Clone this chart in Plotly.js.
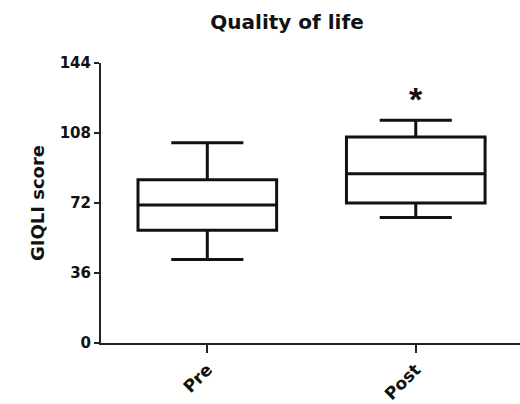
<!DOCTYPE html>
<html>
<head>
<meta charset="utf-8">
<script src="https://cdn.plot.ly/plotly-3.0.1.min.js"></script>
<style>html,body{margin:0;padding:0;background:#fff;}#chart{width:520px;height:404px;}</style>
</head>
<body>
<div id="chart"></div>
<script>
// Data (GIQLI score, box summary)
const categories = ['Pre', 'Post'];
const lowerWhisker = [43, 64.5];
const q1Values = [58, 72];
const medianValues = [71, 87];
const q3Values = [84, 106];
const upperWhisker = [103, 114.5];
const significance = ['', '*'];
const yTicks = [0, 36, 72, 108, 144];

const trace = {
  type: 'box',
  x: categories,
  lowerfence: lowerWhisker,
  q1: q1Values,
  median: medianValues,
  q3: q3Values,
  upperfence: upperWhisker,
  boxpoints: false,
  fillcolor: '#ffffff',
  line: {color: '#111111', width: 3},
  whiskerwidth: 0.52,
  hoverinfo: 'none',
  showlegend: false
};

const annotations = [];
categories.forEach((c, i) => {
  if (significance[i]) {
    annotations.push({
      x: c, xref: 'x', y: upperWhisker[i], yref: 'y',
      text: significance[i], showarrow: false,
      yanchor: 'bottom', yshift: 0,
      font: {family: 'Liberation Sans, Arial, sans-serif', size: 34, color: '#111', weight: 'bold'}
    });
  }
});

const layout = {
  width: 520, height: 404,
  margin: {l: 101, r: 0, t: 63, b: 61},
  paper_bgcolor: '#fff', plot_bgcolor: '#fff',
  boxgap: 0.335,
  boxgroupgap: 0,
  title: {
    text: 'Quality of life',
    font: {family: 'DejaVu Sans, sans-serif', size: 20, color: '#111', weight: 'bold'},
    x: 0.444, xref: 'paper', xanchor: 'center',
    y: 0.945, yref: 'container', yanchor: 'middle'
  },
  xaxis: {
    range: [-0.51, 1.5],
    showline: true, linecolor: '#222', linewidth: 2,
    ticks: 'outside', ticklen: 8, tickwidth: 2, tickcolor: '#222',
    tickangle: -45,
    tickfont: {family: 'DejaVu Sans, sans-serif', size: 17, color: '#111', weight: 'bold'},
    showgrid: false, zeroline: false, fixedrange: true
  },
  yaxis: {
    range: [0, 144],
    tickvals: yTicks, ticktext: yTicks.map(String),
    showline: true, linecolor: '#222', linewidth: 2,
    ticks: 'outside', ticklen: 5, tickwidth: 2, tickcolor: '#222',
    tickfont: {family: 'DejaVu Sans, sans-serif', size: 15, color: '#111', weight: 'bold'},
    title: {text: 'GIQLI score', standoff: 10,
      font: {family: 'DejaVu Sans, sans-serif', size: 18, color: '#111', weight: 'bold'}},
    showgrid: false, zeroline: false, fixedrange: true
  },
  annotations: annotations
};

Plotly.newPlot('chart', [trace], layout, {displayModeBar: false, staticPlot: true});
</script>
</body>
</html>
